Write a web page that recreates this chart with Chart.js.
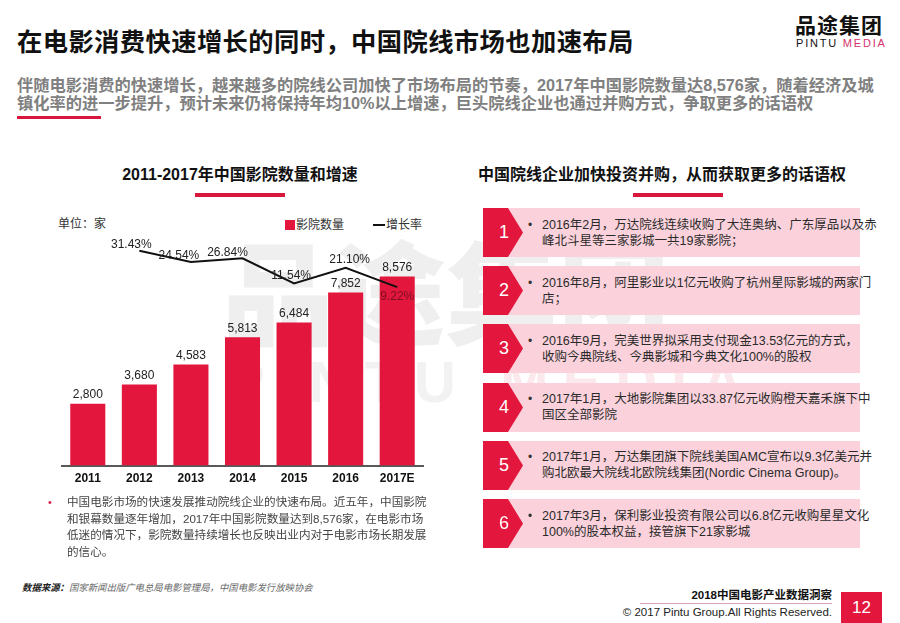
<!DOCTYPE html>
<html>
<head>
<meta charset="utf-8">
<script src="https://cdn.jsdelivr.net/npm/chart.js@4.4.1/dist/chart.umd.min.js"></script>
<style>
  html, body { margin: 0; padding: 0; background: #fff; }
  body { width: 900px; height: 623px; position: relative; overflow: hidden;
         font-family: "Liberation Sans", "Noto Sans CJK SC", sans-serif; color: #222; }
  .abs { position: absolute; white-space: nowrap; }
  .title { left: 17px; top: 24px; font-size: 25.3px; line-height: 32px; font-weight: bold; color: #111;
           font-family: "Noto Sans CJK SC", sans-serif; letter-spacing: 0.4px; }
  .sub { left: 17px; top: 76px; font-size: 16.25px; line-height: 18px; font-weight: bold; color: #808080; }
  .redline { background: #d9173d; }
  .logo1 { left: 795px; top: 11px; font-size: 21px; line-height: 26px; font-weight: bold; color: #111;
           font-family: "Noto Sans CJK SC", sans-serif; letter-spacing: 1px; }
  .logo2 { left: 796px; top: 37px; font-size: 11px; line-height: 12px; letter-spacing: 1.8px; color: #111; }
  .logo2 span { color: #d6336c; }
  .wm1 { left: 222px; top: 218px; font-size: 112px; line-height: 140px; font-weight: 900; color: #efefef;
         font-family: "Noto Sans CJK SC", sans-serif; }
  .wm2 { left: 226px; top: 350px; font-size: 58px; line-height: 64px; letter-spacing: 14px; font-weight: bold; color: #f2f2f2; }
  .wm2 span { color: #fbe9ed; }
  .ctitle { font-size: 16px; line-height: 20px; font-weight: bold; color: #111; transform: translateX(-50%); }
  .small { font-size: 12px; line-height: 14px; color: #333; }
  .row { position: absolute; left: 483px; width: 377px; height: 49px; background: #fbd2db; }
  .row svg { position: absolute; left: 0; top: 0; }
  .row .num { position: absolute; left: 6px; width: 30px; top: 0; height: 49px; line-height: 49px; text-align: center;
              color: #fff; font-size: 18px; }
  .row .bul { position: absolute; left: 45px; top: 8.5px; font-size: 12px; line-height: 16px; color: #333; }
  .row .txt { position: absolute; left: 59px; top: 50%; transform: translateY(-50%); font-size: 12.5px; line-height: 16px;
              color: #2a2a2a; white-space: nowrap; }
  .para { left: 67px; top: 494px; font-size: 11.6px; line-height: 16.7px; color: #444; }
  .src { left: 22px; top: 582px; font-size: 9.4px; line-height: 12px; font-style: italic; color: #6a6a6a; }
  .src b { color: #222; }
</style>
</head>
<body>

<div class="abs wm1">品途集团</div>
<div class="abs wm2">PINTU <span>MEDIA</span></div>

<div class="abs title">在电影消费快速增长的同时，中国院线市场也加速布局</div>
<div class="abs logo1">品途集团</div>
<div class="abs logo2">PINTU <span>MEDIA</span></div>
<div class="abs sub">伴随电影消费的快速增长，越来越多的院线公司加快了市场布局的节奏，2017年中国影院数量达8,576家，随着经济及城<br>镇化率的进一步提升，预计未来仍将保持年均10%以上增速，巨头院线企业也通过并购方式，争取更多的话语权</div>
<div class="abs redline" style="left:17px;top:116px;width:84px;height:3px;"></div>

<div class="abs ctitle" style="left:240px;top:165px;">2011-2017年中国影院数量和增速</div>
<div class="abs redline" style="left:195px;top:193px;width:90px;height:4px;"></div>
<div class="abs ctitle" style="left:662px;top:165px;">中国院线企业加快投资并购，从而获取更多的话语权</div>
<div class="abs redline" style="left:633px;top:193px;width:90px;height:4px;"></div>

<div class="abs small" style="left:58px;top:217px;">单位：家</div>
<div class="abs" style="left:285px;top:220px;width:10px;height:10px;background:#e3173d;"></div>
<div class="abs small" style="left:296px;top:218px;">影院数量</div>
<div class="abs" style="left:373px;top:224px;width:12px;height:2px;background:#111;"></div>
<div class="abs small" style="left:386px;top:218px;">增长率</div>

<div class="abs" style="left:40px;top:200px;width:400px;height:305px;">
  <canvas id="cinemaChart"></canvas>
</div>

<div class="abs" style="left:48px;top:494px;font-size:11px;line-height:16.7px;color:#d9173d;">•</div>
<div class="abs para">中国电影市场的快速发展推动院线企业的快速布局。近五年，中国影院<br>和银幕数量逐年增加，2017年中国影院数量达到8,576家，在电影市场<br>低迷的情况下，影院数量持续增长也反映出业内对于电影市场长期发展<br>的信心。</div>
<div class="abs src"><b>数据来源：</b>国家新闻出版广电总局电影管理局，中国电影发行放映协会</div>

<div id="rows"></div>

<div class="abs" style="right:68px;top:588px;font-size:11.5px;line-height:14px;font-weight:bold;color:#111;">2018中国电影产业数据洞察</div>
<div class="abs" style="left:640px;top:603px;width:192px;height:1px;background:#d8a9b2;"></div>
<div class="abs" style="right:68px;top:605px;font-size:11.5px;line-height:14px;color:#222;">© 2017 Pintu Group.All Rights Reserved.</div>
<div class="abs" style="left:841px;top:592px;width:41px;height:31px;background:#e3173d;color:#fff;font-size:17px;line-height:31px;text-align:center;">12</div>

<script>
// 数据
const years = ['2011', '2012', '2013', '2014', '2015', '2016', '2017E'];
const cinemaCounts = [2800, 3680, 4583, 5813, 6484, 7852, 8576];
const growthRates = [null, 31.43, 24.54, 26.84, 11.54, 21.10, 9.22];
// 增长率标签的偏移 (px)
const rateLabelOffsets = [[0, 0], [-8, -6], [-12, -6], [-15, -6], [-3, -8], [4, -8], [0, 10]];

const deals = [
    '2016年2月，万达院线连续收购了大连奥纳、广东厚品以及赤<br>峰北斗星等三家影城一共19家影院；',
    '2016年8月，阿里影业以1亿元收购了杭州星际影城的两家门<br>店；',
    '2016年9月，完美世界拟采用支付现金13.53亿元的方式，<br>收购今典院线、今典影城和今典文化100%的股权',
    '2017年1月，大地影院集团以33.87亿元收购橙天嘉禾旗下中<br>国区全部影院',
    '2017年1月，万达集团旗下院线美国AMC宣布以9.3亿美元并<br>购北欧最大院线北欧院线集团(Nordic Cinema Group)。',
    '2017年3月，保利影业投资有限公司以6.8亿元收购星星文化<br>100%的股本权益，接管旗下21家影城'
];

// 右侧列表
const rowsEl = document.getElementById('rows');
deals.forEach((t, i) => {
    const r = document.createElement('div');
    r.className = 'row';
    r.style.top = (208 + i * 58.2) + 'px';
    r.innerHTML = '<svg width="42" height="49"><polygon points="0,0 25,0 40,24.5 25,49 0,49" fill="#e3173d"/></svg>' +
        '<div class="num">' + (i + 1) + '</div><div class="bul">•</div><div class="txt">' + t + '</div>';
    rowsEl.appendChild(r);
});

// 数据标签
const labelPlugin = {
    id: 'labels',
    afterDatasetsDraw(chart) {
        const ctx = chart.ctx;
        ctx.save();
        ctx.font = '12px "Liberation Sans", sans-serif';
        ctx.textAlign = 'center';
        ctx.textBaseline = 'middle';
        chart.getDatasetMeta(0).data.forEach((bar, i) => {
            ctx.fillStyle = '#222';
            ctx.fillText(cinemaCounts[i].toLocaleString('en-US'), bar.x, bar.y - 9);
        });
        chart.getDatasetMeta(1).data.forEach((pt, i) => {
            if (growthRates[i] == null) return;
            const [dx, dy] = rateLabelOffsets[i];
            ctx.fillStyle = i === growthRates.length - 1 ? '#7d0f22' : '#222';
            ctx.fillText(growthRates[i].toFixed(2) + '%', pt.x + dx, pt.y + dy);
        });
        ctx.restore();
    }
};

new Chart(document.getElementById('cinemaChart'), {
    data: {
        labels: years,
        datasets: [
            { type: 'bar', label: '影院数量', data: cinemaCounts, backgroundColor: '#e3173d', yAxisID: 'y',
              categoryPercentage: 1, barPercentage: 0.68, order: 2 },
            { type: 'line', label: '增长率', data: growthRates, borderColor: '#111', borderWidth: 2,
              pointRadius: 0, tension: 0, yAxisID: 'y2', order: 1 }
        ]
    },
    options: {
        responsive: true, maintainAspectRatio: false, animation: false,
        layout: { padding: { left: 22, right: 17, top: 45, bottom: 13 } },
        plugins: { legend: { display: false }, tooltip: { enabled: false } },
        scales: {
            x: {
                grid: { display: false, drawTicks: false },
                border: { display: true, color: '#595959', width: 2 },
                ticks: { color: '#111', padding: 6, font: { family: 'Liberation Sans', size: 12, weight: 'bold' } }
            },
            y: { display: false, min: 0, max: 10000 },
            y2: { display: false, min: -100, max: 35, position: 'right' }
        }
    },
    plugins: [labelPlugin]
});
</script>
</body>
</html>
